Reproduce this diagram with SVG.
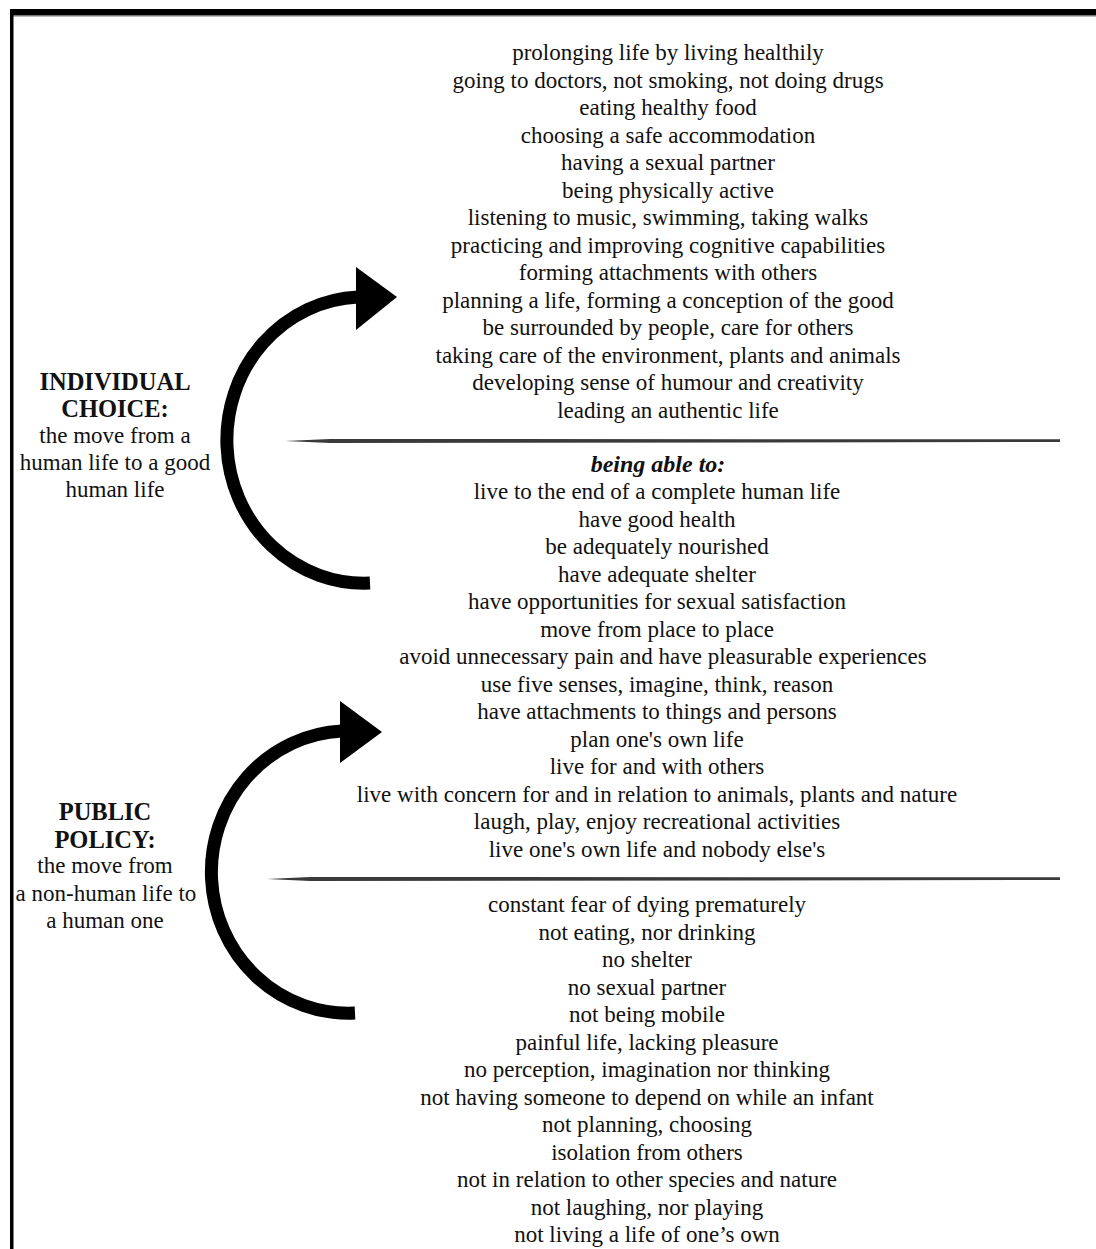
<svg xmlns="http://www.w3.org/2000/svg" width="1096" height="1249" viewBox="0 0 1096 1249">
<style>
text{font-family:"Liberation Serif","Times New Roman",serif;font-size:23px;fill:#111;text-anchor:middle}
.b{font-weight:bold;font-size:24.5px}
.bi{font-weight:bold;font-style:italic;font-size:24px}
.arc{fill:none;stroke:#000;stroke-width:13}
</style>
<rect width="1096" height="1249" fill="#fff"/>
<g id="frame">
<rect x="10" y="9" width="1086" height="6" fill="#000"/>
<rect x="10" y="15" width="1086" height="1.5" fill="#777"/>
<rect x="10" y="9" width="3.5" height="1240" fill="#000"/>
</g>
<g id="connectors">
<g id="arrow-individual">
<path class="arc" d="M370,583 A137,143 0 0 1 358,297"/>
<polygon points="356,267 397,297 356,330" fill="#000"/>
</g>
<g id="arrow-policy">
<path class="arc" d="M355,1013 A137,141 0 0 1 342,731"/>
<polygon points="340,701 382,732 340,763" fill="#000"/>
</g>
<path id="sep1" d="M285,441 L330,439 L1060,439.3 L1060,442 L330,443 Z" fill="#3a3a3a"/>
<path id="sep2" d="M267,879 L310,877 L1060,877.3 L1060,880 L310,881 Z" fill="#3a3a3a"/>
</g>
<g id="label-individual">
<text class="b" x="115" y="390">INDIVIDUAL</text>
<text class="b" x="115" y="417">CHOICE:</text>
<text x="115" y="443">the move from a</text>
<text x="115" y="470">human life to a good</text>
<text x="115" y="497">human life</text>
</g>
<g id="label-policy">
<text class="b" x="105" y="820">PUBLIC</text>
<text class="b" x="105" y="848">POLICY:</text>
<text x="105" y="873">the move from</text>
<text x="106" y="901">a non-human life to</text>
<text x="105" y="928">a human one</text>
</g>
<g id="good-life">
<text x="668" y="60">prolonging life by living healthily</text>
<text x="668" y="88">going to doctors, not smoking, not doing drugs</text>
<text x="668" y="115">eating healthy food</text>
<text x="668" y="143">choosing a safe accommodation</text>
<text x="668" y="170">having a sexual partner</text>
<text x="668" y="198">being physically active</text>
<text x="668" y="225">listening to music, swimming, taking walks</text>
<text x="668" y="253">practicing and improving cognitive capabilities</text>
<text x="668" y="280">forming attachments with others</text>
<text x="668" y="308">planning a life, forming a conception of the good</text>
<text x="668" y="335">be surrounded by people, care for others</text>
<text x="668" y="363">taking care of the environment, plants and animals</text>
<text x="668" y="390">developing sense of humour and creativity</text>
<text x="668" y="418">leading an authentic life</text>
</g>
<g id="human-life">
<text class="bi" x="658" y="472">being able to:</text>
<text x="657" y="499">live to the end of a complete human life</text>
<text x="657" y="527">have good health</text>
<text x="657" y="554">be adequately nourished</text>
<text x="657" y="582">have adequate shelter</text>
<text x="657" y="609">have opportunities for sexual satisfaction</text>
<text x="657" y="637">move from place to place</text>
<text x="663" y="664">avoid unnecessary pain and have pleasurable experiences</text>
<text x="657" y="692">use five senses, imagine, think, reason</text>
<text x="657" y="719">have attachments to things and persons</text>
<text x="657" y="747">plan one's own life</text>
<text x="657" y="774">live for and with others</text>
<text x="657" y="802">live with concern for and in relation to animals, plants and nature</text>
<text x="657" y="829">laugh, play, enjoy recreational activities</text>
<text x="657" y="857">live one's own life and nobody else's</text>
</g>
<g id="non-human-life">
<text x="647" y="912">constant fear of dying prematurely</text>
<text x="647" y="940">not eating, nor drinking</text>
<text x="647" y="967">no shelter</text>
<text x="647" y="995">no sexual partner</text>
<text x="647" y="1022">not being mobile</text>
<text x="647" y="1050">painful life, lacking pleasure</text>
<text x="647" y="1077">no perception, imagination nor thinking</text>
<text x="647" y="1105">not having someone to depend on while an infant</text>
<text x="647" y="1132">not planning, choosing</text>
<text x="647" y="1160">isolation from others</text>
<text x="647" y="1187">not in relation to other species and nature</text>
<text x="647" y="1215">not laughing, nor playing</text>
<text x="647" y="1242">not living a life of one’s own</text>
</g>
</svg>
